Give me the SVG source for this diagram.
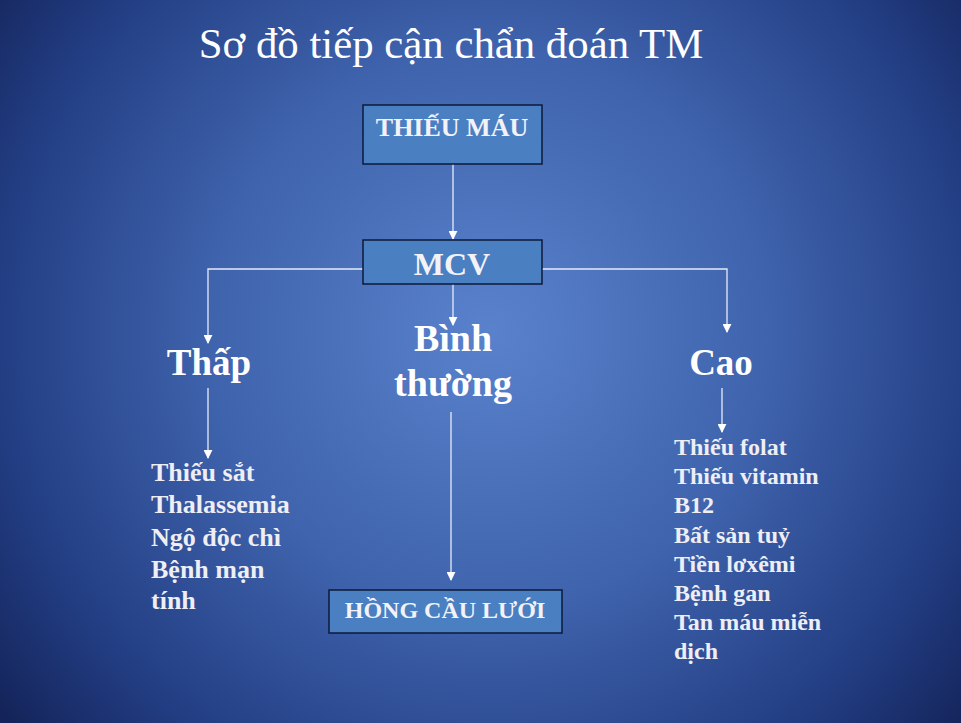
<svg xmlns="http://www.w3.org/2000/svg" width="961" height="723" viewBox="0 0 961 723">
<defs>
<radialGradient id="bg" cx="490" cy="330" r="620" gradientUnits="userSpaceOnUse">
<stop offset="0" stop-color="#5a82cc"/>
<stop offset="0.45" stop-color="#3f63ad"/>
<stop offset="0.8" stop-color="#223d82"/>
<stop offset="1" stop-color="#14245a"/>
</radialGradient>
<marker id="arr" viewBox="0 0 10 10" refX="9" refY="5" markerWidth="9" markerHeight="9" markerUnits="userSpaceOnUse" orient="auto">
<path d="M0,0 L10,5 L0,10 z" fill="#ffffff"/>
</marker>
<style>
.box{fill:#4a7fc2;stroke:#0d1a3a;stroke-width:1.5}
.bt{font-family:"Liberation Serif","DejaVu Serif",serif;font-weight:bold;fill:#f2f2f7;text-anchor:middle}
.lbl{font-family:"Liberation Serif","DejaVu Serif",serif;font-weight:bold;fill:#ffffff}
.lst{font-family:"Liberation Serif","DejaVu Serif",serif;font-weight:bold;fill:#eeeef4}
.con{fill:none;stroke:#e6ecf8;stroke-width:1.3}
</style>
</defs>
<rect x="0" y="0" width="961" height="723" fill="url(#bg)"/>
<text x="451" y="58" font-family="Liberation Serif, serif" font-size="42.8" fill="#ffffff" text-anchor="middle">Sơ đồ tiếp cận chẩn đoán TM</text>
<g id="connectors">
<path class="con" d="M453,164 L453,239" marker-end="url(#arr)"/>
<path class="con" d="M363,269 L208,269 L208,343" marker-end="url(#arr)"/>
<path class="con" d="M542,269 L727,269 L727,332" marker-end="url(#arr)"/>
<path class="con" d="M453,284 L453,325" marker-end="url(#arr)"/>
<path class="con" d="M208,388 L208,458" marker-end="url(#arr)"/>
<path class="con" d="M451,412 L451,580" marker-end="url(#arr)"/>
<path class="con" d="M722,388 L722,432" marker-end="url(#arr)"/>
</g>
<g id="thieumau">
<rect class="box" x="363" y="105" width="179" height="59"/>
<text class="bt" x="452" y="136" font-size="26">THIẾU MÁU</text>
</g>
<g id="mcv">
<rect class="box" x="363" y="240" width="179" height="44"/>
<text class="bt" x="452" y="275" font-size="32">MCV</text>
</g>
<g id="thap">
<text class="lbl" x="209" y="375" font-size="37" text-anchor="middle">Thấp</text>
</g>
<g id="binhthuong">
<text class="lbl" x="453" y="351" font-size="38" text-anchor="middle">Bình</text>
<text class="lbl" x="453" y="396" font-size="38" text-anchor="middle">thường</text>
</g>
<g id="cao">
<text class="lbl" x="721" y="375" font-size="37" text-anchor="middle">Cao</text>
</g>
<g id="list-thap">
<text class="lst" x="151" font-size="26"><tspan x="151" y="481">Thiếu sắt</tspan><tspan x="151" y="513">Thalassemia</tspan><tspan x="151" y="546">Ngộ độc chì</tspan><tspan x="151" y="578">Bệnh mạn</tspan><tspan x="151" y="609">tính</tspan></text>
</g>
<g id="list-cao">
<text class="lst" x="674" font-size="24"><tspan x="674" y="455">Thiếu folat</tspan><tspan x="674" y="484">Thiếu vitamin</tspan><tspan x="674" y="513">B12</tspan><tspan x="674" y="543">Bất sản tuỷ</tspan><tspan x="674" y="572">Tiền lơxêmi</tspan><tspan x="674" y="601">Bệnh gan</tspan><tspan x="674" y="630">Tan máu miễn</tspan><tspan x="674" y="659">dịch</tspan></text>
</g>
<g id="hongcauluoi">
<rect class="box" x="329" y="590" width="233" height="43"/>
<text class="bt" x="445" y="618" font-size="24">HỒNG CẦU LƯỚI</text>
</g>
</svg>
